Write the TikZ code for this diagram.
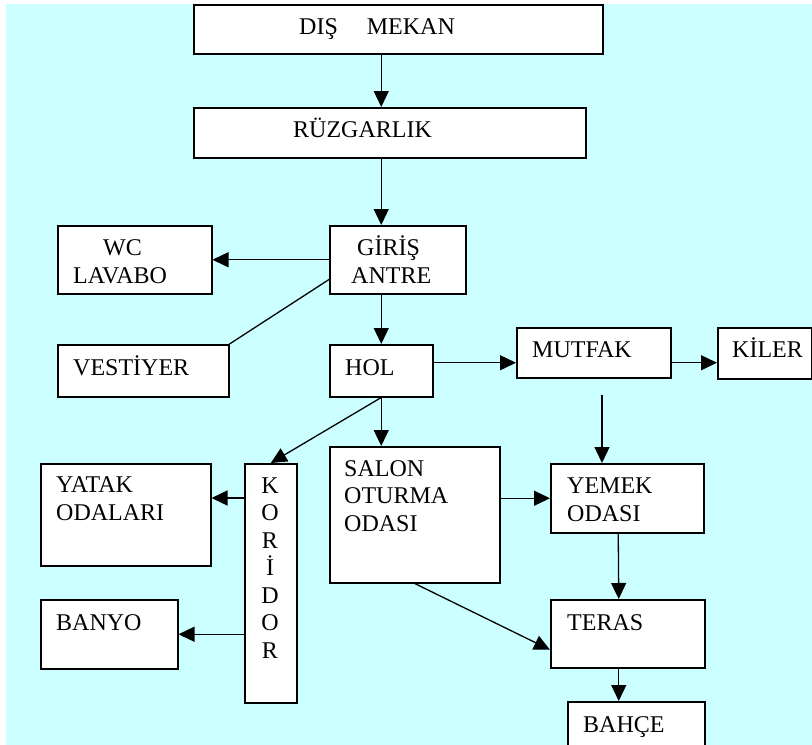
\documentclass[tikz,border=0pt]{standalone}
\usepackage{fontspec}
\setmainfont{Liberation Serif}
\usetikzlibrary{arrows.meta}
\definecolor{bgc}{RGB}{204,255,255}
\begin{document}
\begin{tikzpicture}[x=1pt,y=-1pt,
  box/.style={draw, fill=white, line width=1.5pt, inner sep=0pt, anchor=north west},
  tx/.style={inner sep=0pt, anchor=base west, font=\fontsize{24}{27.5}\selectfont, align=left},
  ln/.style={line width=1.3pt},
  arr/.style={line width=1.3pt, -{Triangle[length=16pt,width=15pt]}}]
\useasboundingbox (0,0) rectangle (812,745);
\begin{scope}
\clip (0,0) rectangle (812,745);
\fill[bgc] (6,4) rectangle (812,745);
% boxes
\node[box, minimum width=409pt, minimum height=49pt] (dis) at (193,4) {};
\node[box, minimum width=392pt, minimum height=50pt] (ruz) at (193,107) {};
\node[box, minimum width=136pt, minimum height=68pt] (gir) at (329,225) {};
\node[box, minimum width=154pt, minimum height=68pt] (wc) at (57,225) {};
\node[box, minimum width=171pt, minimum height=52pt] (vest) at (57,344) {};
\node[box, minimum width=103pt, minimum height=52pt] (hol) at (329,344) {};
\node[box, minimum width=154pt, minimum height=50pt] (mut) at (516,327) {};
\node[box, minimum width=94pt, minimum height=51pt] (kil) at (717,327) {};
\node[box, minimum width=170pt, minimum height=136pt] (sal) at (329,446) {};
\node[box, minimum width=153pt, minimum height=69pt] (yem) at (550,463) {};
\node[box, minimum width=52pt, minimum height=239pt] (kor) at (244,463) {};
\node[box, minimum width=170pt, minimum height=102pt] (yat) at (40,463) {};
\node[box, minimum width=137pt, minimum height=69pt] (ban) at (40,599) {};
\node[box, minimum width=154pt, minimum height=68pt] (ter) at (550,599) {};
\node[box, minimum width=137pt, minimum height=70pt] (bah) at (567,701) {};
% texts (base = baseline of the last line)
\node[tx] (tdis) at (299,34) {DIŞ\hspace{29pt}MEKAN};
\node[tx] (truz) at (293,137) {RÜZGARLIK};
\node[tx] (tgir1) at (357,255) {GİRİŞ};
\node[tx] (tgir2) at (351,283) {ANTRE};
\node[tx] (twc1) at (103,255) {WC};
\node[tx] (twc2) at (73,283) {LAVABO};
\node[tx] (tvest) at (73,375) {VESTİYER};
\node[tx] (thol) at (345,375) {HOL};
\node[tx] (tmut) at (532,357) {MUTFAK};
\node[tx] (tkil) at (732,357) {KİLER};
\node[tx] (tsal) at (344,531) {SALON\\OTURMA\\ODASI};
\node[tx] (tyem) at (567,521) {YEMEK\\ODASI};
\node[tx] (tyat) at (56,520) {YATAK\\ODALARI};
\node[tx] (tban) at (56,630) {BANYO};
\node[tx] (tter) at (567,630) {TERAS};
\node[tx] (tbah) at (583,732) {BAHÇE};
\node[tx, anchor=base, align=center] (tkor) at (270,658) {K\\O\\R\\İ\\D\\O\\R};
% connectors
\draw[arr] (dis.south -| hol.north) -- (ruz.north -| hol.north);
\draw[arr] (ruz.south -| hol.north) -- (gir.north -| hol.north);
\draw[arr] (gir.west) -- (wc.east);
\draw[ln] ([yshift=15pt]gir.south west) -- (vest.north east);
\draw[arr] (gir.south -| hol.north) -- (hol.north);
\coordinate (hm) at ([yshift=-10pt]mut.west);
\draw[arr] (hol.east |- hm) -- (hm);
\coordinate (mk) at ([yshift=-10pt]mut.east);
\draw[arr] (mk) -- (mk -| kil.west);
\coordinate (my) at (602,395);
\draw[arr] (my) -- (my |- yem.north);
\draw[arr] (hol.south) -- (hol.south |- sal.north);
\draw[arr] (hol.south) -- (kor.north);
\coordinate (ky) at ([yshift=-35pt]kor.north west);
\draw[arr] (ky) -- (ky -| yat.east);
\draw[arr] (kor.west |- ban.east) -- (ban.east);
\draw[arr] (sal.east |- yem.west) -- (yem.west);
\draw[arr] ([xshift=-9pt]yem.south) -- ([xshift=-9pt]ter.north);
\draw[arr] (sal.south) -- ([yshift=-16pt]ter.west);
\coordinate (tb) at ([xshift=-9pt]ter.south);
\draw[arr] (tb) -- (tb |- bah.north);
\end{scope}
\end{tikzpicture}
\end{document}
